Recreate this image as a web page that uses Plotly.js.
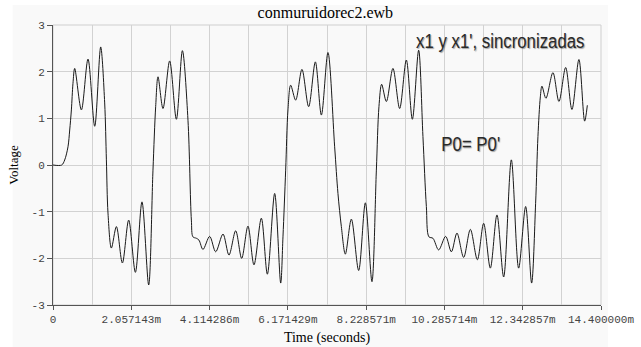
<!DOCTYPE html>
<html>
<head>
<meta charset="utf-8">
<script src="https://cdn.plot.ly/plotly-3.0.1.min.js"></script>
<style>html,body{margin:0;padding:0;background:#fff;}#chart{width:641px;height:347px;}</style>
</head>
<body>
<div id="chart"></div>
<script>
// time in ms
const timeMs = [0, 0.229, 0.307, 0.394, 0.439, 0.483, 0.525, 0.570, 0.746, 0.920, 1.096, 1.253, 1.358, 1.403, 1.445,
  1.534, 1.666, 1.823, 1.989, 2.165, 2.338, 2.514, 2.627, 2.698, 2.759, 2.890, 3.066, 3.242, 3.400, 3.547, 3.636, 3.678,
  3.768, 3.836, 3.941, 4.117, 4.275, 4.467, 4.624, 4.800, 4.958, 5.123, 5.281, 5.475, 5.633, 5.825, 5.983, 6.043, 6.114,
  6.174, 6.245, 6.377, 6.542, 6.718, 6.894, 7.052, 7.225, 7.401, 7.488, 7.577, 7.682, 7.840, 8.032, 8.208, 8.381, 8.497,
  8.565, 8.636, 8.760, 8.933, 9.109, 9.285, 9.443, 9.608, 9.721, 9.811, 9.879, 9.984, 10.134, 10.318, 10.468, 10.615,
  10.791, 10.967, 11.151, 11.316, 11.492, 11.666, 11.842, 12.044, 12.236, 12.420, 12.577, 12.682, 12.743, 12.806, 12.848,
  12.953, 13.137, 13.295, 13.471, 13.636, 13.820, 13.970, 14.041];
const voltage = [0, 0, 0.107, 0.39, 0.75, 1.18, 1.75, 2.07, 1.18, 2.27, 0.83, 2.53, 1.33, 0.11, -1.03,
  -1.78, -1.32, -2.10, -1.18, -2.30, -0.79, -2.57, -0.11, 1.25, 1.89, 1.21, 2.23, 0.98, 2.45, 0.96, -1.18, -1.54,
  -1.57, -1.61, -1.81, -1.53, -1.86, -1.48, -1.93, -1.41, -2.00, -1.31, -2.14, -1.14, -2.34, -0.61, -2.53, -1.54, -0.11,
  1.18, 1.71, 1.39, 2.05, 1.25, 2.21, 1.07, 2.41, 0.39, -0.61, -1.32, -1.91, -1.16, -2.26, -0.81, -2.50, -0.11,
  1.25, 1.73, 1.36, 2.07, 1.21, 2.25, 0.98, 2.46, 0.61, -0.89, -1.54, -1.57, -1.82, -1.53, -1.86, -1.46,
  -1.98, -1.38, -2.03, -1.25, -2.21, -1.07, -2.40, 0.11, -2.21, -0.89, -2.53, -0.82, 0.61, 1.46, 1.69,
  1.43, 1.98, 1.36, 2.09, 1.19, 2.26, 0.94, 1.28];

const xTickVals = [0, 2.057143, 4.114286, 6.171429, 8.228571, 10.285714, 12.342857, 14.4];
const xTickText = ["0", "2.057143m", "4.114286m", "6.171429m", "8.228571m", "10.285714m", "12.342857m", "14.400000m"];
const yTickVals = [-3, -2, -1, 0, 1, 2, 3];
const yTickText = ["-3", "-2", "-1", "0", "1", "2", "3"];

const tickFont = {family: "Liberation Mono, Courier New, monospace", size: 11, color: "#444"};
const serif = "Liberation Serif, Times New Roman, serif";
const sans = "Liberation Sans, Arial, sans-serif";

const trace = {
  x: timeMs, y: voltage, type: "scatter", mode: "lines",
  line: {color: "#1a1a1a", width: 1, shape: "spline", smoothing: 0.9},
  hoverinfo: "skip"
};

const annFont = {family: sans, size: 21, color: "#2a2a2a", shadow: "1px 1px 1px rgba(0,0,0,0.35)"};

const layout = {
  width: 641, height: 347,
  margin: {l: 53, r: 40, t: 25, b: 42},
  paper_bgcolor: "#ffffff",
  plot_bgcolor: "rgba(0,0,0,0)",
  showlegend: false,
  title: {text: "conmuruidorec2.ewb", font: {family: serif, size: 16, color: "#000"}, x: 0.497, xref: "paper", y: 0.965, yanchor: "middle"},
  xaxis: {
    range: [0, 14.4], tickvals: xTickVals, ticktext: xTickText, tickfont: tickFont,
    ticks: "outside", ticklen: 4, tickcolor: "#555",
    showgrid: true, gridcolor: "#d2d2d2", gridwidth: 1,
    minor: {dtick: 1.0285714, tick0: 0, showgrid: true, gridcolor: "#d2d2d2", gridwidth: 1, ticks: ""},
    showline: true, linecolor: "#555", linewidth: 1, zeroline: false,
    title: {text: "Time (seconds)", font: {family: serif, size: 14, color: "#000"}, standoff: 6},
    fixedrange: true
  },
  yaxis: {
    range: [-3, 3], tickvals: yTickVals, ticktext: yTickText, tickfont: tickFont,
    ticks: "outside", ticklen: 5, tickcolor: "#555",
    showgrid: true, gridcolor: "#d2d2d2", gridwidth: 1,
    showline: true, linecolor: "#555", linewidth: 1, zeroline: false,
    title: {text: "Voltage", font: {family: serif, size: 13, color: "#000"}, standoff: 10},
    fixedrange: true
  },
  shapes: [
    {type: "rect", xref: "paper", yref: "paper", x0: -0.0736, x1: 1.0128, y0: -0.15, y1: 1.071,
      fillcolor: "#f9f9f9", line: {width: 0}, layer: "below"},
    {type: "rect", xref: "paper", yref: "paper", x0: 0, x1: 1, y0: 0, y1: 1,
      fillcolor: "rgba(0,0,0,0)", line: {color: "#cfcfcf", width: 1}, layer: "below"}
  ],
  annotations: [
    {text: "x1 y x1', sincronizadas", xref: "paper", yref: "paper", x: (500.8 - 53.3) / 547.7, y: (305 - 40) / 280,
      xanchor: "center", yanchor: "middle", showarrow: false, font: annFont},
    {text: "P0= P0'", xref: "paper", yref: "paper", x: (470.8 - 53.3) / 547.7, y: (305 - 143.5) / 280,
      xanchor: "center", yanchor: "middle", showarrow: false, font: annFont}
  ]
};

Plotly.newPlot("chart", [trace], layout, {staticPlot: true, displayModeBar: false}).then(function (gd) {
  // the reference uses a condensed face: narrow the annotation text horizontally
  gd.querySelectorAll("text.annotation-text").forEach(function (el) {
    el.style.transformBox = "fill-box";
    el.style.transformOrigin = "center";
    el.style.transform = "scaleX(0.80)";
  });
});
</script>
</body>
</html>
